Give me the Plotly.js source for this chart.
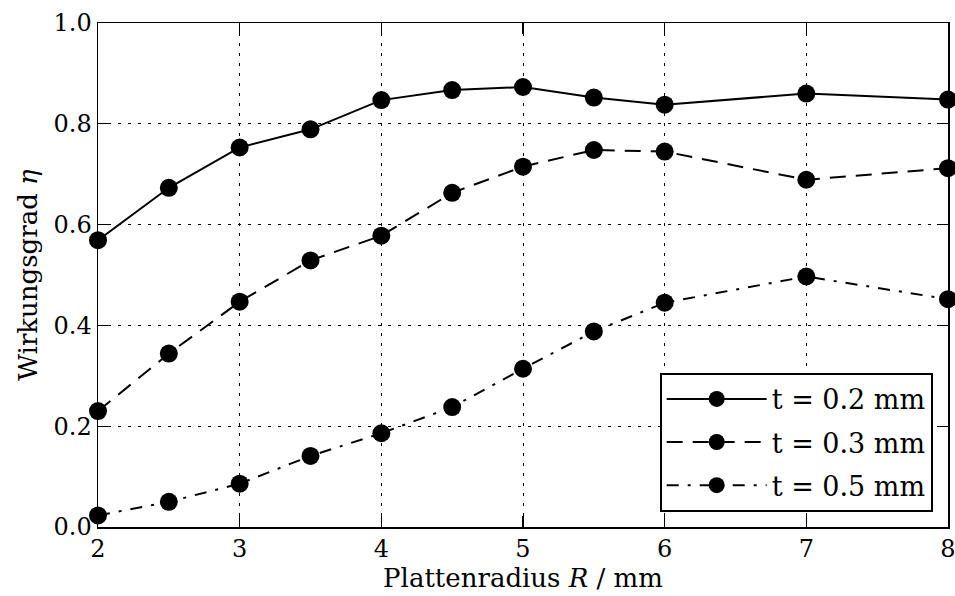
<!DOCTYPE html>
<html>
<head>
<meta charset="utf-8">
<script src="https://cdn.plot.ly/plotly-3.0.1.min.js"></script>
<style>html,body{margin:0;padding:0;background:#fff;}#chart{width:955px;height:596px;}</style>
</head>
<body>
<div id="chart"></div>
<script>
const radius = [2, 2.5, 3, 3.5, 4, 4.5, 5, 5.5, 6, 7, 8];
const eta_t02 = [0.569, 0.673, 0.753, 0.789, 0.847, 0.867, 0.873, 0.852, 0.838, 0.860, 0.848];
const eta_t03 = [0.230, 0.344, 0.447, 0.529, 0.578, 0.663, 0.715, 0.748, 0.745, 0.689, 0.712];
const eta_t05 = [0.023, 0.050, 0.086, 0.141, 0.186, 0.238, 0.314, 0.388, 0.445, 0.497, 0.452];
const seriesNames = ['t = 0.2 mm', 't = 0.3 mm', 't = 0.5 mm'];
const xTicks = [2, 3, 4, 5, 6, 7, 8];
const yTicks = [0.0, 0.2, 0.4, 0.6, 0.8, 1.0];

const FONT = '"DejaVu Serif", serif';
const dashes = ['solid', '16px,10px', '12px,9px,3px,9px'];
const data = [eta_t02, eta_t03, eta_t05].map((ys, i) => ({
  x: radius, y: ys, name: seriesNames[i], type: 'scatter', mode: 'lines+markers',
  legendgroup: 'g' + i,
  line: {color: '#000', width: 2, dash: dashes[i]},
  marker: {color: '#000', size: 18},
  cliponaxis: false
}));

const axisCommon = {
  showline: true, linecolor: '#000', linewidth: 1.5, mirror: 'ticks',
  ticks: 'inside', ticklen: 11, tickwidth: 1.2, tickcolor: '#000',
  showgrid: true, gridcolor: '#000', gridwidth: 1, griddash: '3px,7px',
  zeroline: false, ticklabeloverflow: 'allow',
  tickfont: {family: FONT, size: 24, color: '#000'}
};

const layout = {
  width: 955, height: 596,
  margin: {l: 98, r: 7, t: 23, b: 69},
  paper_bgcolor: '#fff', plot_bgcolor: '#fff',
  font: {family: FONT, color: '#000'},
  showlegend: true,
  xaxis: Object.assign({}, axisCommon, {
    range: [2, 8], tickvals: xTicks, ticktext: xTicks.map(String),
    title: {text: 'Plattenradius <i>R</i> / mm', font: {family: FONT, size: 26, color: '#000'}, standoff: 2}
  }),
  yaxis: Object.assign({}, axisCommon, {
    range: [0, 1], tickvals: yTicks, ticktext: yTicks.map(v => v.toFixed(1)),
    title: {text: 'Wirkungsgrad <i>η</i>', font: {family: FONT, size: 26, color: '#000'}, standoff: 8}
  }),
  legend: {
    x: 0.982, y: 0.03, xanchor: 'right', yanchor: 'bottom',
    bgcolor: '#fff', bordercolor: '#000', borderwidth: 2,
    font: {family: FONT, size: 27, color: '#000'},
    itemwidth: 100, tracegroupgap: 5
  }
};

Plotly.newPlot('chart', data, layout, {displayModeBar: false, staticPlot: true});
</script>
</body>
</html>
